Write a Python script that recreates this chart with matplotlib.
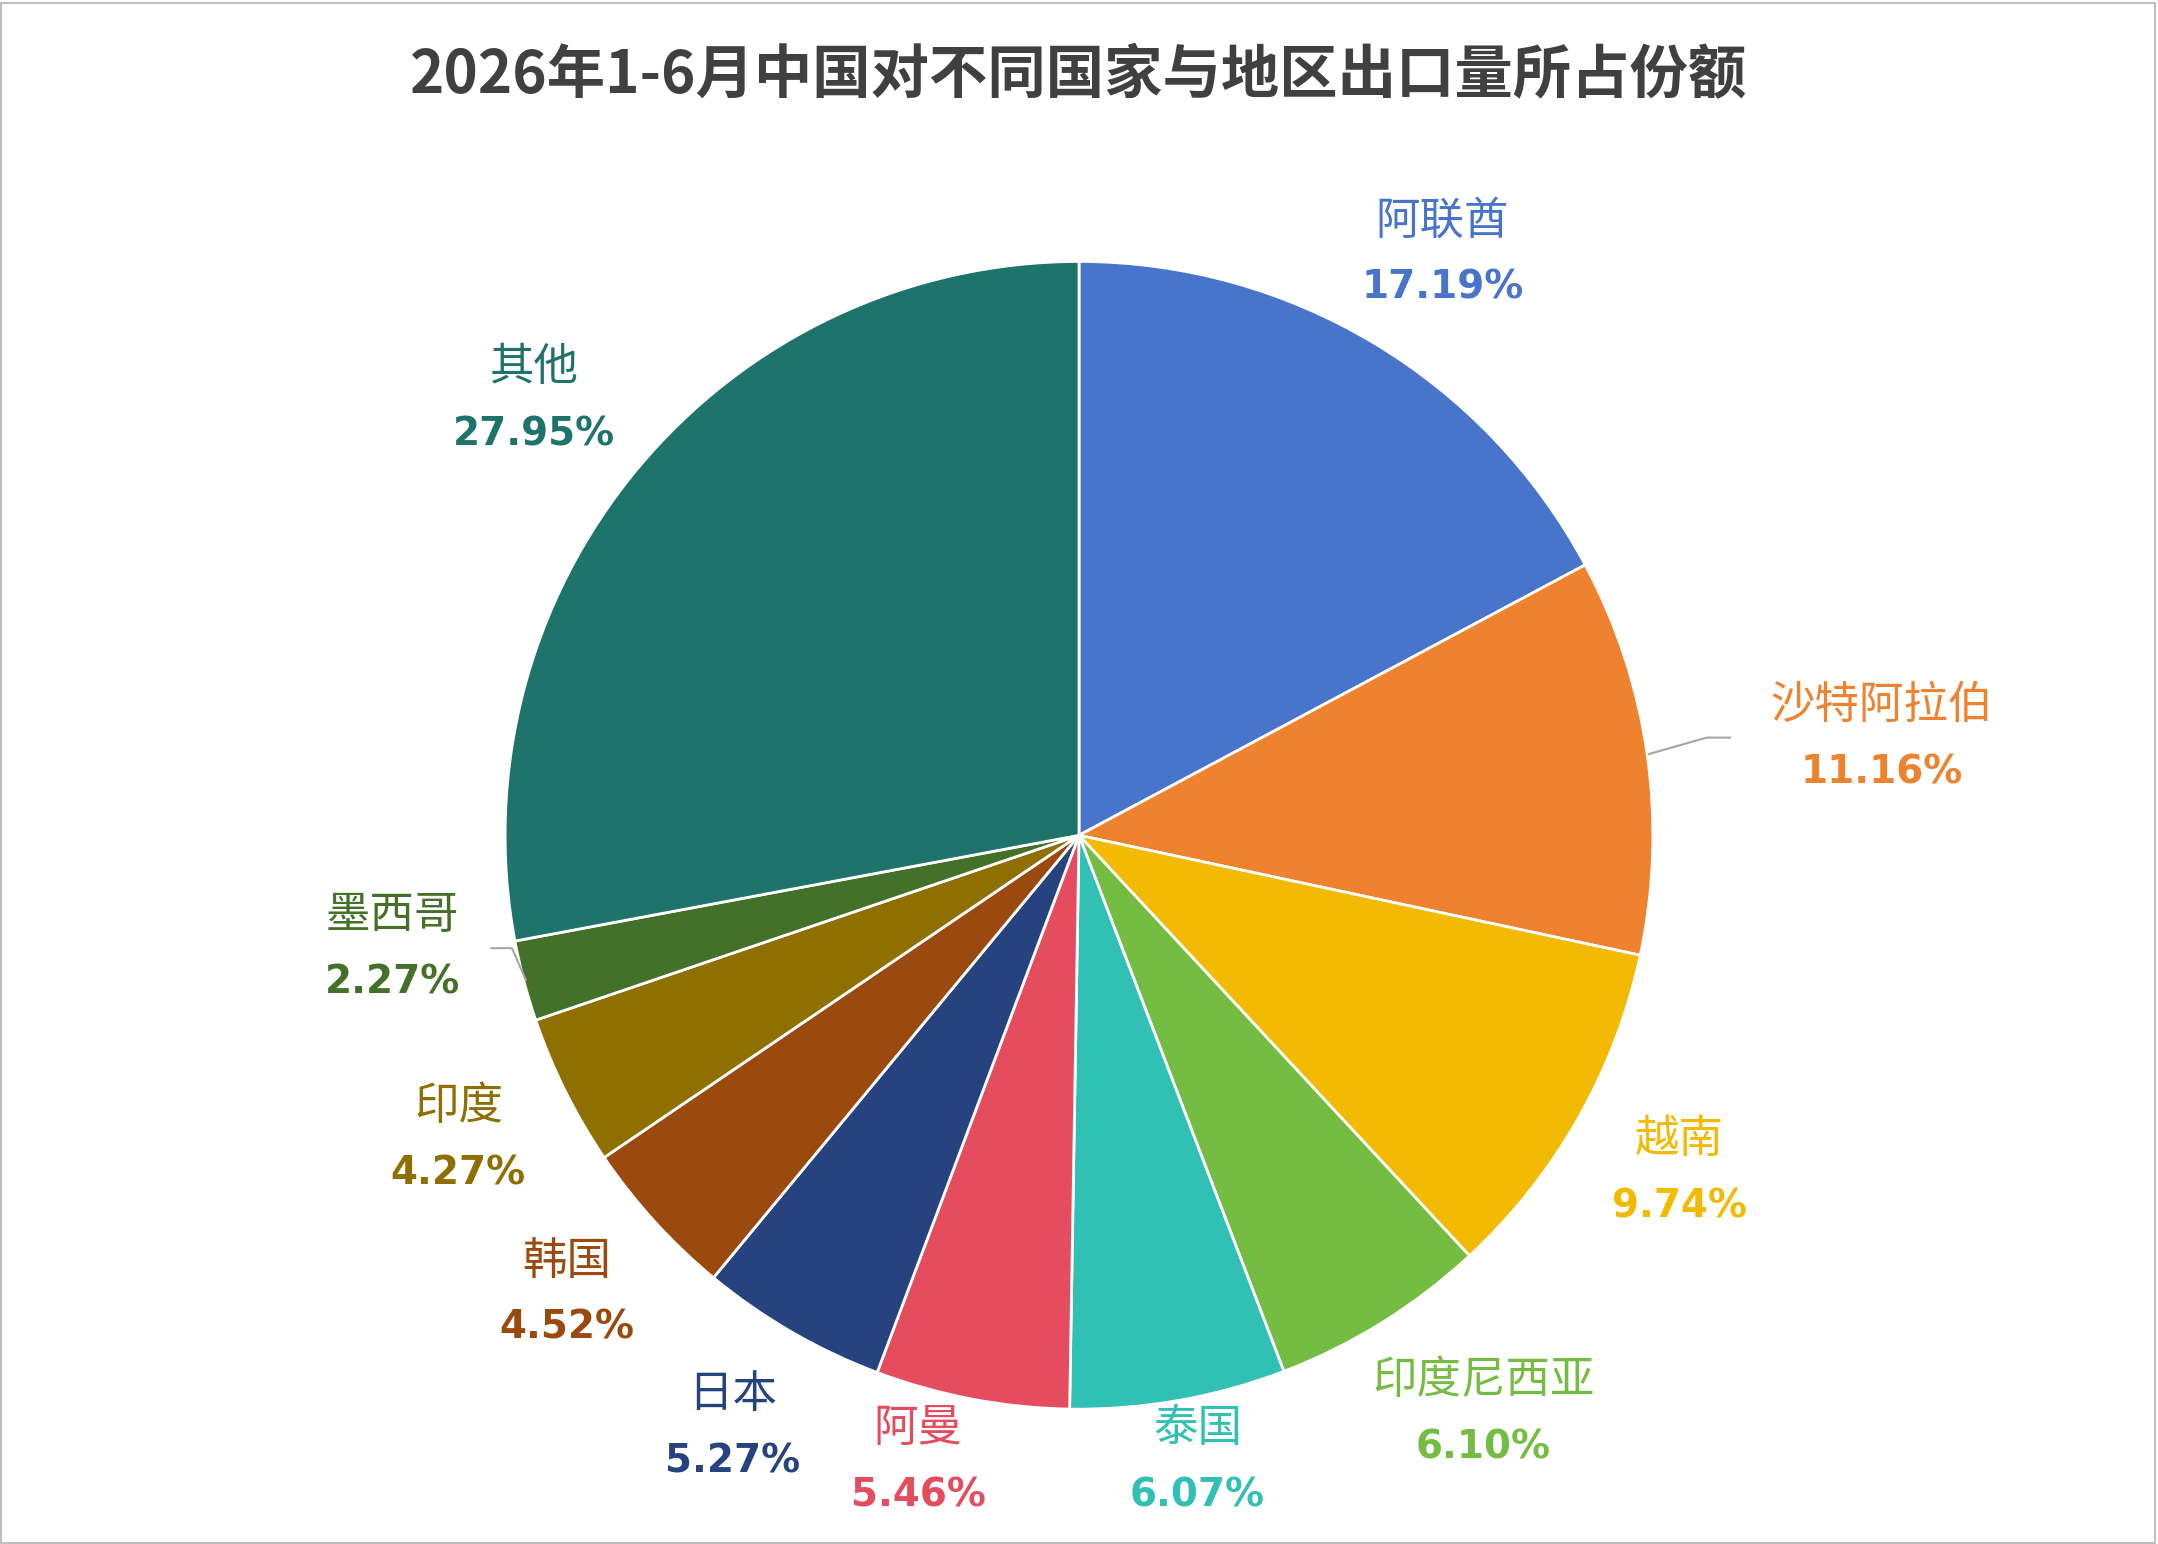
import matplotlib
matplotlib.use("Agg")
import matplotlib.pyplot as plt
from matplotlib.patches import Rectangle

names = ["阿联酋","沙特阿拉伯","越南","印度尼西亚","泰国","阿曼","日本","韩国","印度","墨西哥","其他"]
shares = [17.19,11.16,9.74,6.10,6.07,5.46,5.27,4.52,4.27,2.27,27.95]
colors = ["#4874CB","#EE822F","#F2BA02","#75BD42","#30C0B4","#E54C5E","#264380","#9A4A0E","#8E6F00","#44712A","#1E736A"]
title = "2026年1-6月中国对不同国家与地区出口量所占份额"

# label anchor positions in the 1568x1122 layout frame (y measured from top)
label_pos = [(1048,160),(1367,512),(1220,828),(1078,1003),(870,1038),(667,1038),
             (532,1013),(412,916),(333,804),(285,665),(388,267)]

H = 1122
plt.rcParams['font.family'] = ['Noto Sans CJK SC', 'DejaVu Sans']
fig = plt.figure(figsize=(21.58,15.44), dpi=100)
ax = fig.add_axes([0,0,1,1])

ax.pie(shares, colors=colors, startangle=90, counterclock=False,
       center=(784,H-607), radius=417, frame=True,
       wedgeprops=dict(edgecolor='white', linewidth=2))
ax.set_xlim(0,1568); ax.set_ylim(0,H); ax.set_aspect('auto'); ax.axis('off')

ax.add_patch(Rectangle((1,1),1565,1119, fill=False, edgecolor='#BFBFBF', lw=1.5))
ax.text(784,H-55,title,ha='center',va='center',fontsize=42,fontweight='bold',color='#404040')

for n,s,c,(x,y) in zip(names,shares,colors,label_pos):
    ax.text(x,H-y,n,ha='center',va='center',fontsize=32,color=c)
    ax.text(x,H-y-49,f"{s:.2f}%",ha='center',va='center',fontsize=28,fontweight='bold',
            color=c,family=['DejaVu Sans'])

ax.plot([1198,1240,1257],[H-548,H-536,H-536],color='#A6A6A6',lw=1.5)
ax.plot([357,372,382],[H-689,H-689,H-712],color='#A6A6A6',lw=1.5)

fig.savefig("out.png", dpi=100)
